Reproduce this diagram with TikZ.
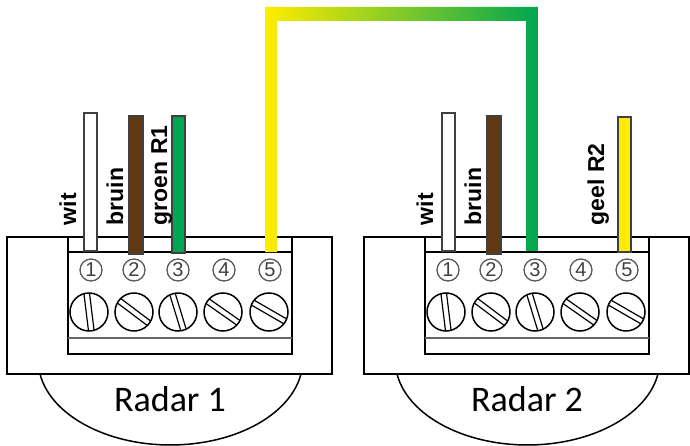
\documentclass[tikz,border=0pt]{standalone}
\usepackage{fontspec}
\newfontfamily\labelfont{Liberation Sans}
\newfontfamily\radarfont{Carlito}
\usetikzlibrary{calc}
\definecolor{geel}{HTML}{FFED00}
\definecolor{groen}{HTML}{00A651}
\definecolor{bruin}{HTML}{603913}
\tikzset{
  wire/.style={draw=black!75, line width=1.2pt},
  wirelabel/.style={font=\labelfont\bfseries\fontsize{23}{23}\selectfont,
    rotate=90, anchor=base west, inner sep=0pt},
  radarlabel/.style={font=\radarfont\fontsize{36}{36}\selectfont,
    anchor=base, inner sep=0pt},
  terminalnr/.style={circle, draw=black!65, line width=1.3pt, minimum size=22pt,
    inner sep=0pt, text=black!75, font=\labelfont\fontsize{20}{20}\selectfont}
}
\begin{document}
\begin{tikzpicture}[x=1pt, y=-1pt, line width=1.5pt]
  \useasboundingbox (0,0) rectangle (690,446);
  % the two radar housings with their terminal blocks
  \foreach \r/\dx in {1/0, 2/357} {
    \begin{scope}[shift={(\dx,0)}]
      \draw (7,237) rectangle (332,374);
      \draw (68,237) -- (68,354) -- (292,354) -- (292,237);
      \draw (68,252) -- (292,252);
      \draw[black!60] (68,338) -- (292,338);
      \draw (40,374) arc[start angle=170.5, end angle=9.5,
        x radius=132.3, y radius=85];
      \foreach \i/\x in {1/91, 2/134, 3/178, 4/224, 5/270}
        \node[terminalnr] (n\r\i) at (\x,270) {\i};
      \foreach \x/\a in {89/97, 134/-37, 178/107, 223/-35, 269/-30} {
        \begin{scope}[shift={(\x,312)}, rotate=\a]
          \clip (0,0) circle[radius=19];
          \draw[line width=1.2pt] (-20,-2.8) -- (20,-2.8) (-20,2.8) -- (20,2.8);
        \end{scope}
        \draw (\x,312) circle[radius=19];
      }
    \end{scope}
  }
  \node[radarlabel] (radar1) at (170,411) {Radar 1};
  \node[radarlabel] (radar2) at (527,411) {Radar 2};
  % wires radar 1
  \draw[wire, fill=white] (84,113) rectangle (97,251);
  \draw[wire, fill=bruin] (129,116) rectangle (143,254);
  \draw[wire, fill=groen] (172,116) rectangle (185,253);
  \node[wirelabel] (wit1) at (76,226) {wit};
  \node[wirelabel] (bruin1) at (123,226) {bruin};
  \node[wirelabel] (groen1) at (167,226) {groen R1};
  % wires radar 2
  \draw[wire, fill=white] (442,113) rectangle (455,251);
  \draw[wire, fill=bruin] (487,116) rectangle (501,254);
  \draw[wire, fill=geel] (618,117) rectangle (631,252);
  \node[wirelabel] (wit2) at (433,226) {wit};
  \node[wirelabel] (bruin2) at (481,226) {bruin};
  \node[wirelabel] (geel2) at (604,226) {geel R2};
  % connection 5 of radar 1 to 3 of radar 2
  \coordinate (r1t5) at (271,252);
  \coordinate (r2t3) at (532,251);
  \coordinate (hoek1) at (271,14);
  \coordinate (hoek2) at (532,14);
  \shade[left color=geel, right color=groen]
    ($(r1t5)+(-6,0)$) -- ($(hoek1)+(-6,-7)$) -- ($(hoek2)+(6,-7)$)
    -- ($(r2t3)+(6,0)$) -- ($(r2t3)+(-6,0)$) -- ($(hoek2)+(-6,7)$)
    -- ($(hoek1)+(6,7)$) -- ($(r1t5)+(6,0)$) -- cycle;
\end{tikzpicture}
\end{document}
